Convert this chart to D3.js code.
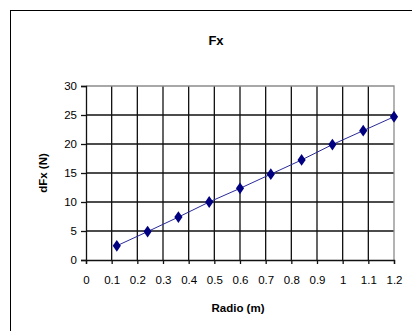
<!DOCTYPE html>
<html>
<head>
<meta charset="utf-8">
<script src="https://cdn.jsdelivr.net/npm/d3@7.9.0/dist/d3.min.js"></script>
<style>
  body { margin: 0; background: #fff; }
  svg { display: block; font-family: Arial, "Liberation Sans", sans-serif; }
</style>
</head>
<body>
<svg id="chart" width="412" height="331"></svg>
<script>
// --- Data ---
const radio = [0.12, 0.24, 0.36, 0.48, 0.6, 0.72, 0.84, 0.96, 1.08, 1.2];
const dFx = [2.45, 4.9, 7.4, 10.0, 12.35, 14.8, 17.25, 19.9, 22.3, 24.7];
const xTicks = [0, 0.1, 0.2, 0.3, 0.4, 0.5, 0.6, 0.7, 0.8, 0.9, 1, 1.1, 1.2];
const yTicks = [0, 5, 10, 15, 20, 25, 30];

const svg = d3.select('#chart');

// outer chart frame (runs off the right and bottom edges)
svg.append('rect')
  .attr('x', 10.5).attr('y', 10.5)
  .attr('width', 420).attr('height', 340)
  .attr('fill', '#fff').attr('stroke', '#000').attr('stroke-width', 1);

const x = d3.scaleLinear().domain([0, 1.2]).range([86, 394]);
const y = d3.scaleLinear().domain([0, 30]).range([260, 86]);

// gridlines
const grid = svg.append('g').attr('stroke', '#111').attr('stroke-width', 1.3);
grid.selectAll('.vg').data(xTicks.slice(1, -1)).join('line')
  .attr('x1', d => x(d)).attr('x2', d => x(d))
  .attr('y1', y(30)).attr('y2', y(0));
grid.selectAll('.hg').data(yTicks.slice(1, -1)).join('line')
  .attr('x1', x(0)).attr('x2', x(1.2))
  .attr('y1', d => y(d)).attr('y2', d => y(d));

// gray top/right border of plot area
svg.append('path')
  .attr('d', `M${x(0)},${y(30)}H${x(1.2)}V${y(0)}`)
  .attr('fill', 'none').attr('stroke', '#8c8c8c').attr('stroke-width', 1.3);

// axes
const xAxis = d3.axisBottom(x).tickValues(xTicks).tickSize(4).tickPadding(12)
  .tickFormat(d => String(+d.toFixed(1)));
const yAxis = d3.axisLeft(y).tickValues(yTicks).tickSize(5).tickPadding(5);

const gx = svg.append('g').attr('transform', `translate(0,${y(0)})`).call(xAxis);
const gy = svg.append('g').attr('transform', `translate(${x(0)},0)`).call(yAxis);
[gx, gy].forEach(g => {
  g.select('.domain').attr('stroke', '#111').attr('stroke-width', 1.3);
  g.selectAll('.tick line').attr('stroke', '#111').attr('stroke-width', 1.3);
  g.selectAll('.tick text')
    .attr('fill', '#000')
    .attr('font-size', 11.5)
    .attr('font-family', 'Arial, "Liberation Sans", sans-serif');
});
gy.selectAll('.tick text').attr('x', -9);

// series line
svg.append('path')
  .datum(radio.map((r, i) => [r, dFx[i]]))
  .attr('fill', 'none')
  .attr('stroke', '#2a2a9a')
  .attr('stroke-width', 1)
  .attr('d', d3.line().x(d => x(d[0])).y(d => y(d[1])));

// diamond markers
svg.selectAll('.pt').data(radio).join('path')
  .attr('d', d3.symbol(d3.symbolDiamond, 40))
  .attr('transform', (d, i) => `translate(${x(d)},${y(dFx[i])}) scale(1.2,1)`)
  .attr('fill', '#000080');

// titles
svg.append('text')
  .attr('x', 216).attr('y', 45)
  .attr('text-anchor', 'middle')
  .attr('font-size', 13).attr('font-weight', 'bold')
  .text('Fx');

svg.append('text')
  .attr('x', 238).attr('y', 312)
  .attr('text-anchor', 'middle')
  .attr('font-size', 11.5).attr('font-weight', 'bold')
  .text('Radio (m)');

svg.append('text')
  .attr('transform', 'translate(47,173) rotate(-90)')
  .attr('text-anchor', 'middle')
  .attr('font-size', 11.5).attr('font-weight', 'bold')
  .text('dFx (N)');
</script>
</body>
</html>
